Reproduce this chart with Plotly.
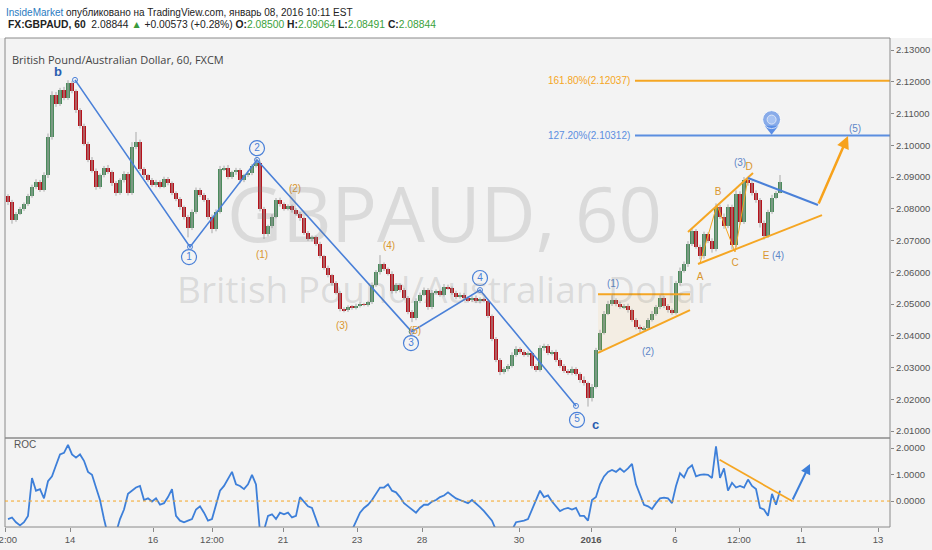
import plotly.graph_objects as go

# --- price data (hourly bars) ---
first_open = 2.0840
closes = [
    2.0820, 2.0765, 2.0785, 2.0800, 2.0815, 2.0840, 2.0870, 2.0885, 2.0860, 2.0905,
    2.1025, 2.1160, 2.1130, 2.1175, 2.1150, 2.1195, 2.1170, 2.1110, 2.1060, 2.1005,
    2.0955, 2.0920, 2.0870, 2.0905, 2.0930, 2.0915, 2.0880, 2.0850, 2.0890, 2.0910,
    2.0850, 2.0995, 2.1010, 2.0925, 2.0905, 2.0890, 2.0875, 2.0885, 2.0870, 2.0895,
    2.0880, 2.0850, 2.0830, 2.0805, 2.0775, 2.0740, 2.0790, 2.0860, 2.0845, 2.0828,
    2.0775, 2.0735, 2.0790, 2.0925, 2.0930, 2.0900, 2.0915, 2.0922, 2.0890, 2.0905,
    2.0912, 2.0935, 2.0945, 2.0800, 2.0720, 2.0745, 2.0775, 2.0828, 2.0815, 2.0800,
    2.0808, 2.0795, 2.0785, 2.0770, 2.0725, 2.0705, 2.0710, 2.0690, 2.0650, 2.0615,
    2.0590, 2.0565, 2.0535, 2.0485, 2.0480, 2.0492, 2.0488, 2.0495, 2.0500, 2.0498,
    2.0505, 2.0560, 2.0600, 2.0625, 2.0610, 2.0595, 2.0540, 2.0560, 2.0545, 2.0520,
    2.0475, 2.0455, 2.0510, 2.0530, 2.0545, 2.0490, 2.0535, 2.0540, 2.0530, 2.0555,
    2.0550, 2.0535, 2.0522, 2.0530, 2.0518, 2.0512, 2.0520, 2.0508, 2.0515, 2.0510,
    2.0462, 2.0390, 2.0325, 2.0285, 2.0295, 2.0305, 2.0340, 2.0358, 2.0350, 2.0340,
    2.0345, 2.0305, 2.0292, 2.0360, 2.0368, 2.0345, 2.0350, 2.0325, 2.0305, 2.0290,
    2.0283, 2.0295, 2.0280, 2.0260, 2.0250, 2.0205, 2.0240, 2.0355, 2.0410, 2.0470,
    2.0500, 2.0512, 2.0500, 2.0490, 2.0495, 2.0480, 2.0450, 2.0428, 2.0420, 2.0425,
    2.0450, 2.0470, 2.0490, 2.0520, 2.0495, 2.0480, 2.0472, 2.0565, 2.0605, 2.0625,
    2.0690, 2.0730, 2.0680, 2.0650, 2.0720, 2.0700, 2.0672, 2.0805, 2.0775, 2.0745,
    2.0805, 2.0685, 2.0848, 2.0758, 2.0890, 2.0880, 2.0850, 2.0828, 2.0755, 2.0715,
    2.0790, 2.0835, 2.0850, 2.08844,
]
# wick lengths in pips above / below the body
wick_up = [
    6, 8, 5, 6, 5, 7, 6, 8, 6, 10,
    12, 10, 8, 6, 9, 10, 8, 6, 7, 8,
    6, 8, 7, 6, 5, 8, 6, 7, 6, 8,
    6, 15, 32, 8, 6, 5, 7, 6, 5, 6,
    5, 6, 5, 7, 5, 6, 8, 7, 6, 5,
    6, 7, 8, 10, 6, 8, 5, 7, 6, 5,
    8, 6, 15, 7, 6, 5, 8, 6, 7, 5,
    6, 5, 7, 5, 6, 5, 6, 5, 6, 5,
    6, 5, 7, 6, 5, 4, 5, 6, 5, 4,
    5, 8, 7, 29, 6, 5, 8, 6, 5, 6,
    5, 6, 8, 6, 7, 5, 9, 6, 5, 8,
    6, 5, 7, 6, 5, 6, 5, 7, 6, 5,
    6, 5, 6, 5, 7, 6, 8, 9, 6, 5,
    6, 5, 6, 10, 7, 6, 5, 6, 5, 6,
    5, 8, 6, 5, 12, 6, 8, 7, 9, 8,
    10, 16, 6, 7, 5, 6, 5, 6, 7, 5,
    6, 8, 7, 10, 6, 5, 6, 8, 10, 9,
    8, 10, 6, 7, 8, 6, 7, 12, 8, 10,
    9, 8, 10, 7, 10, 6, 7, 8, 6, 8,
    7, 9, 6, 22,
]
wick_dn = [
    8, 12, 6, 5, 7, 6, 5, 8, 7, 6,
    8, 7, 9, 6, 8, 7, 6, 8, 7, 6,
    8, 6, 10, 7, 6, 5, 8, 9, 6, 7,
    8, 6, 7, 6, 8, 5, 6, 7, 6, 5,
    6, 7, 6, 8, 9, 30, 7, 6, 8, 6,
    9, 12, 6, 5, 6, 7, 6, 8, 10, 6,
    5, 6, 5, 8, 15, 7, 6, 5, 8, 6,
    5, 7, 6, 8, 7, 6, 8, 7, 6, 7,
    6, 7, 5, 8, 6, 5, 6, 5, 6, 5,
    6, 5, 6, 7, 6, 5, 7, 6, 8, 6,
    7, 12, 6, 7, 5, 8, 6, 5, 7, 6,
    5, 6, 7, 5, 6, 7, 6, 5, 6, 5,
    6, 7, 8, 9, 6, 7, 5, 6, 7, 6,
    7, 8, 6, 5, 7, 6, 7, 8, 6, 7,
    6, 7, 6, 8, 7, 28, 12, 6, 7, 6,
    5, 6, 7, 5, 6, 7, 6, 8, 10, 7,
    6, 5, 7, 6, 8, 7, 6, 5, 7, 6,
    8, 7, 6, 9, 7, 8, 10, 6, 7, 8,
    6, 12, 7, 8, 6, 7, 8, 9, 14, 12,
    7, 6, 5, 1,
]
roc = [
    -0.68, -0.62, -0.80, -0.92, -0.80, -0.56, 0.87, 0.39, 0.45, 0.10,
    0.75, 0.93, 1.35, 1.76, 1.82, 2.12, 1.76, 1.64, 1.76, 1.52,
    1.10, 0.99, 0.51, 0.04, -0.68, -1.30, -1.40, -1.20, -0.68, -0.32,
    0.27, 0.39, 0.51, 0.57, 0.04, 0.10, -0.02, 0.10, -0.14, -0.08,
    0.15, 0.45, -0.56, -0.74, -0.80, -0.74, -0.68, -0.32, -0.20, -0.44,
    -0.74, -0.68, -0.14, 0.39, 0.57, 0.81, 1.10, 0.63, 0.57, 0.45,
    0.63, 0.99, 0.63, -1.20, -1.10, -0.56, -0.50, -0.68, -0.44, -0.50,
    -0.44, -0.62, -0.56, 0.15, -0.02, -0.20, -0.26, -0.68, -1.10, -1.30,
    -1.40, -1.50, -1.40, -1.30, -1.40, -1.30, -1.10, -0.74, -0.44, -0.26,
    -0.14, 0.04, 0.27, 0.51, 0.51, 0.63, 0.39, 0.33, 0.15, -0.08,
    -0.20, -0.32, -0.44, -0.26, -0.14, -0.14, -0.02, 0.04, 0.15, 0.21,
    0.33, 0.21, 0.10, 0.04, -0.02, -0.08, 0.04, -0.08, -0.23, -0.38,
    -0.56, -0.74, -1.10, -1.30, -1.40, -1.30, -1.10, -0.80, -0.77, -0.74,
    -0.68, -0.32, 0.04, 0.39, 0.15, 0.21, -0.02, -0.20, -0.38, -0.30,
    -0.26, -0.32, -0.26, -0.56, -0.56, -0.74, 0.04, 0.15, 0.63, 0.93,
    1.10, 1.17, 1.10, 1.23, 1.10, 1.23, 1.40, 0.63, 0.27, -0.14,
    -0.20, -0.30, -0.08, 0.10, 0.13, 0.10, -0.08, 0.57, 1.05, 0.89,
    1.23, 1.35, 0.93, 0.99, 1.01, 0.99, 0.87, 2.06, 0.87, 1.23,
    0.39, 0.69, 0.51, 0.57, 0.51, 0.81, 0.57, 0.45, -0.26, -0.32,
    -0.56, 0.27, -0.14, 0.39,
]

# x axis tick labels (bar positions)
tick_pos = [-0.7, 15.5, 36.25, 51, 68.75, 87.25, 103.5, 127.75, 145.75, 166.75, 182.75, 198.25, 217.5]
tick_txt = ["12:00", "14", "16", "12:00", "21", "23", "28", "30", "<b>2016</b>", "6", "12:00", "11", "13"]

# Elliott wave pivots (bar, price)
wave_x = [16.75, 45.5, 62.25, 100.9, 118, 142]
wave_y = [2.1206, 2.0680, 2.0954, 2.0413, 2.0544, 2.0179]
circle_lbl = ["1", "2", "3", "4", "5"]
circle_x = [45.25, 62.25, 100.75, 118, 142.25]
circle_y = [2.0648, 2.0991, 2.0377, 2.0582, 2.0135]

sub_lbl = ["(1)", "(2)", "(3)", "(4)", "(5)"]
sub_x = [63.5, 71.75, 83.5, 95.25, 101.75]
sub_y = [2.0654, 2.0862, 2.0428, 2.0680, 2.0415]

new_x = [151.25, 160, 183, 192.5, 211.75]
new_y = [2.0560, 2.0346, 2.0944, 2.0651, 2.1051]

abc_lbl = ["A", "B", "C", "D", "E"]
abc_x = [173, 177.5, 181.75, 185.25, 189.5]
abc_y = [2.0585, 2.0850, 2.0629, 2.0931, 2.0651]
zig_x = [173, 177.25, 181.75, 185]
zig_y = [2.0629, 2.0812, 2.0664, 2.0897]

fib_levels = [2.12037, 2.10312]
fib_text = ["161.80%(2.12037)", "127.20%(2.10312)"]

GREEN = "#4b8a5c"
RED = "#b5121b"
ORANGE = "#f5a623"
BLUE = "#4a80d8"
LBLUE = "#5d86c8"

n = len(closes)
idx = list(range(n))
opens = [first_open] + closes[:-1]
body_base, body_h, body_col, wx, wy = [], [], [], [], []
for i in idx:
    o, c = opens[i], closes[i]
    lo_b, hi_b = min(o, c), max(o, c)
    body_base.append(lo_b)
    body_h.append(max(hi_b - lo_b, 0.0001))
    body_col.append(GREEN if c >= o else RED)
    wx += [i, i, None]
    wy += [lo_b - wick_dn[i] * 0.0001, hi_b + wick_up[i] * 0.0001, None]

fig = go.Figure()

# shaded triangle of wave (1)-(2)
fig.add_trace(go.Scatter(x=[147.5, 170.5, 170.5, 147.5], y=[2.0346, 2.0481, 2.0531, 2.0531],
                         mode="lines", fill="toself", fillcolor="rgba(245,166,35,0.08)",
                         line=dict(width=0), hoverinfo="skip", showlegend=False))

fig.add_trace(go.Scatter(x=wx, y=wy, mode="lines", line=dict(color="#a9a9a9", width=1),
                         hoverinfo="skip", showlegend=False))
fig.add_trace(go.Bar(x=idx, y=body_h, base=body_base, marker=dict(color=body_col, line=dict(width=0)),
                     width=0.78, showlegend=False))

# orange channel lines
for xs, ys, w in [([147.5, 170.5], [2.0531, 2.0531], 2),
                  ([147.5, 170.5], [2.0346, 2.0481], 2),
                  ([170, 186.25], [2.0727, 2.0913], 2),
                  ([172.5, 203.5], [2.0626, 2.0780], 2),
                  (zig_x, zig_y, 1)]:
    fig.add_trace(go.Scatter(x=xs, y=ys, mode="lines", line=dict(color=ORANGE, width=w),
                             hoverinfo="skip", showlegend=False))

# blue line from D to projection start
fig.add_trace(go.Scatter(x=[185, 202.5], y=[2.0897, 2.0812], mode="lines",
                         line=dict(color=BLUE, width=2), hoverinfo="skip", showlegend=False))

# fibonacci levels
for lv, col in zip(fib_levels, [ORANGE, "#5b8ee0"]):
    fig.add_trace(go.Scatter(x=[156.75, 222], y=[lv, lv], mode="lines", line=dict(color=col, width=2),
                             hoverinfo="skip", showlegend=False))

# main wave
fig.add_trace(go.Scatter(x=wave_x, y=wave_y, mode="lines+markers",
                         line=dict(color=BLUE, width=1.6),
                         marker=dict(symbol="circle-open", size=5, color=BLUE, line=dict(width=1)),
                         hoverinfo="skip", showlegend=False))

fig.add_trace(go.Scatter(x=sub_x, y=sub_y, mode="text", text=sub_lbl,
                         textfont=dict(color="#d9962e", size=10, family="Liberation Sans"),
                         hoverinfo="skip", showlegend=False))
fig.add_trace(go.Scatter(x=circle_x, y=circle_y, mode="markers+text", text=circle_lbl,
                         marker=dict(symbol="circle", size=15, color="rgba(243,243,243,0.6)",
                                     line=dict(color=BLUE, width=1.2)),
                         textfont=dict(color=BLUE, size=10, family="Liberation Sans"),
                         textposition="middle center", hoverinfo="skip", showlegend=False))
fig.add_trace(go.Scatter(x=new_x, y=new_y, mode="text", text=sub_lbl,
                         textfont=dict(color=LBLUE, size=10, family="Liberation Sans"),
                         hoverinfo="skip", showlegend=False))
fig.add_trace(go.Scatter(x=abc_x, y=abc_y, mode="text", text=abc_lbl,
                         textfont=dict(color="#d9962e", size=10, family="Liberation Sans"),
                         hoverinfo="skip", showlegend=False))

# location pin on the 127.2% level
fig.add_trace(go.Scatter(x=[190.9], y=[2.1052], mode="markers",
                         marker=dict(symbol="triangle-down", size=12, color="#5b8ee6"),
                         hoverinfo="skip", showlegend=False))
fig.add_trace(go.Scatter(x=[190.9, 190.9], y=[2.1081, 2.1081], mode="markers",
                         marker=dict(symbol="circle", size=[18, 9], color=["#5b8ee6", "#b3cdf7"]),
                         hoverinfo="skip", showlegend=False))

# ROC pane
fig.add_trace(go.Scatter(x=idx, y=roc, mode="lines", line=dict(color="#3d7fd9", width=1.8),
                         xaxis="x", yaxis="y2", hoverinfo="skip", showlegend=False))
fig.add_trace(go.Scatter(x=[177.9, 196], y=[1.56, 0], mode="lines", line=dict(color=ORANGE, width=1.8),
                         xaxis="x", yaxis="y2", hoverinfo="skip", showlegend=False))

font_ax = dict(family="Liberation Sans", size=9.5, color="#555")
split = 89 / 489

ann = [
    dict(x=210, y=2.1029, ax=202.5, ay=2.0812, xref="x", yref="y", axref="x", ayref="y",
         showarrow=True, arrowhead=2, arrowsize=1, arrowwidth=2.5, arrowcolor="#f7a21b", text=""),
    dict(x=200.5, y=1.4, ax=196, ay=0, xref="x", yref="y2", axref="x", ayref="y2",
         showarrow=True, arrowhead=2, arrowsize=1, arrowwidth=2, arrowcolor="#3d7fd9", text=""),
    dict(x=12.5, y=2.1231, xref="x", yref="y", text="<b>b</b>", showarrow=False,
         font=dict(color="#2a5db0", size=13, family="Liberation Sans")),
    dict(x=146.75, y=2.0119, xref="x", yref="y", text="<b>c</b>", showarrow=False,
         font=dict(color="#2a5db0", size=13, family="Liberation Sans")),
    dict(x=0.497, y=0.644, xref="paper", yref="paper", text="GBPAUD, 60", showarrow=False,
         font=dict(color="rgba(120,120,120,0.2)", size=76, family="Open Sans")),
    dict(x=0.497, y=0.487, xref="paper", yref="paper", text="British Pound/Australian Dollar", showarrow=False,
         font=dict(color="rgba(120,120,120,0.2)", size=37, family="Open Sans")),
    dict(x=0.0057, y=0.975, xref="paper", yref="paper", xanchor="left", showarrow=False,
         text="British Pound/Australian Dollar, 60, FXCM", font=dict(color="#444", size=11, family="Open Sans")),
    dict(x=0.008, y=0.153, xref="paper", yref="paper", xanchor="left", showarrow=False,
         text="ROC", font=dict(color="#555", size=10, family="Liberation Sans")),
    dict(x=-0.001, y=1.053, xref="paper", yref="paper", xanchor="left", yanchor="middle", showarrow=False,
         text="<span style='color:#2a7bc1'>InsideMarket</span> опубликовано на TradingView.com, январь 08, 2016 10:11 EST",
         font=dict(color="#222", size=10, family="Liberation Sans")),
    dict(x=0.001, y=1.027, xref="paper", yref="paper", xanchor="left", yanchor="middle", showarrow=False,
         text="<b>FX:GBPAUD, 60</b>  2.08844 <span style='color:#3a9a3a'>▲</span> +0.00573 (+0.28%) "
              "<b>O:</b><span style='color:#3aa13a'>2.08500</span> <b>H:</b><span style='color:#3aa13a'>2.09064</span> "
              "<b>L:</b><span style='color:#3aa13a'>2.08491</span> <b>C:</b><span style='color:#3aa13a'>2.08844</span>",
         font=dict(color="#222", size=10.3, family="Liberation Sans")),
]
for txt, lv, col in zip(fib_text, fib_levels, [ORANGE, "#5b8ee0"]):
    ann.append(dict(x=156, y=lv, xref="x", yref="y", xanchor="right", showarrow=False, text=txt,
                    font=dict(color=col, size=10, family="Liberation Sans")))

shapes = [
    dict(type="rect", xref="paper", yref="paper", x0=-0.01, x1=1.06, y0=1.0, y1=1.08,
         fillcolor="white", line=dict(width=0), layer="below"),
    dict(type="rect", xref="paper", yref="paper", x0=0, x1=1, y0=split, y1=1,
         line=dict(color="#8a8a8a", width=1)),
    dict(type="rect", xref="paper", yref="paper", x0=0, x1=1, y0=0, y1=split,
         line=dict(color="#8a8a8a", width=1)),
    dict(type="line", xref="paper", yref="y2", x0=0, x1=1, y0=0, y1=0,
         line=dict(color=ORANGE, width=1, dash="dot")),
]

fig.update_layout(
    width=932, height=550,
    margin=dict(l=5, r=42, t=38, b=23, autoexpand=False),
    paper_bgcolor="#f3f3f3", plot_bgcolor="#f3f3f3",
    showlegend=False, bargap=0,
    xaxis=dict(range=[-0.75, 220.5], anchor="y2", tickvals=tick_pos, ticktext=tick_txt,
               ticks="outside", ticklen=4, tickcolor="#888", tickfont=font_ax,
               ticklabeloverflow="allow", automargin=False,
               showgrid=False, zeroline=False, showline=False),
    yaxis=dict(domain=[split, 1], range=[2.0078, 2.1338], side="right", anchor="x",
               tickvals=[2.01 + 0.01 * k for k in range(13)], tickformat=".5f",
               ticks="outside", ticklen=3, tickcolor="#888", tickfont=font_ax,
               showgrid=False, zeroline=False, automargin=False),
    yaxis2=dict(domain=[0, split], range=[-0.98, 2.38], side="right", anchor="x",
                tickvals=[0, 1, 2], tickformat=".4f",
                ticks="outside", ticklen=3, tickcolor="#888", tickfont=font_ax,
                showgrid=False, zeroline=False, automargin=False),
    annotations=ann, shapes=shapes,
)

fig.write_html("out.html", config={"displayModeBar": False},
               post_script="document.body.style.margin='0';")
